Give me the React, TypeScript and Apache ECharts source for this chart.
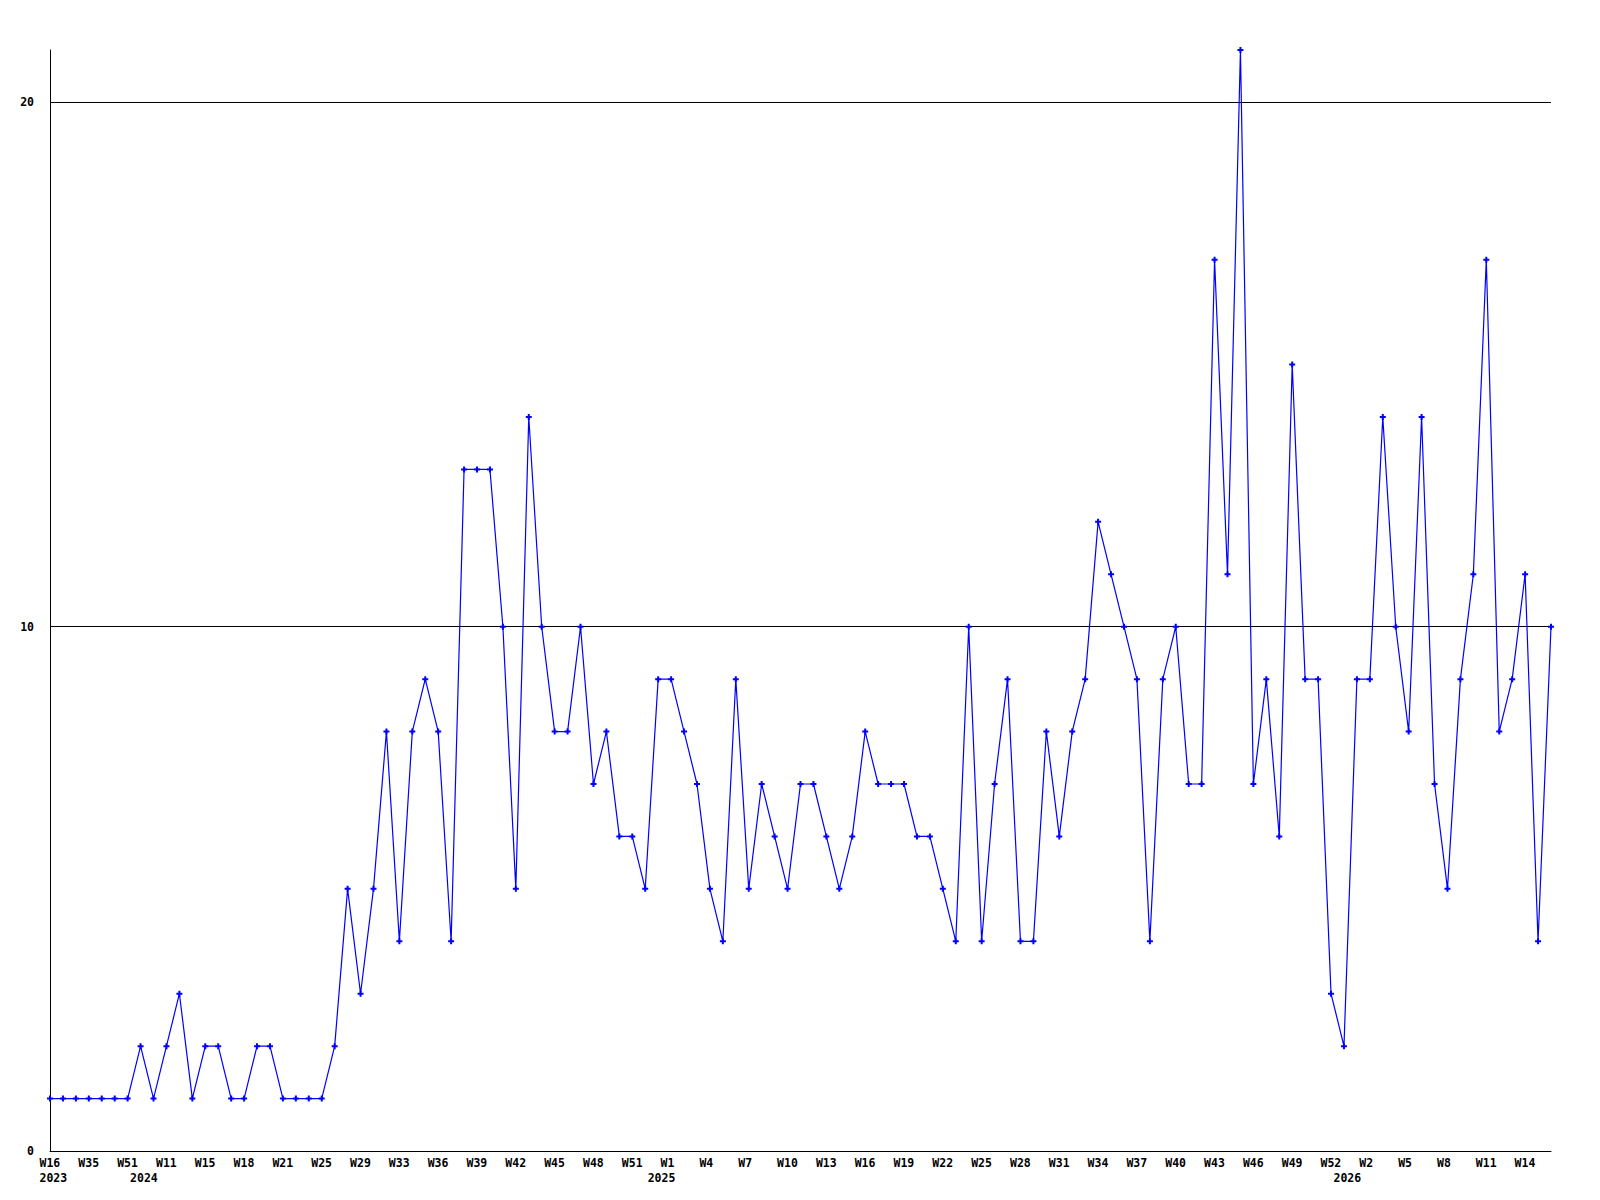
import React, { useEffect, useRef } from "react";
import * as echarts from "echarts";

// Week label of each point (labels are printed every third point)
const weeks: string[] = [
  "W16", "W22", "W29", "W35", "W40", "W46", "W51",
  "W3", "W7", "W11", "W12", "W14", "W15", "W16", "W17", "W18", "W19", "W20", "W21", "W22", "W23",
  "W25", "W26", "W27", "W29", "W30", "W31", "W33", "W34", "W35", "W36", "W37", "W38", "W39", "W40",
  "W41", "W42", "W43", "W44", "W45", "W46", "W47", "W48", "W49", "W50", "W51", "W52",
  "W1", "W1", "W2", "W3", "W4", "W5", "W6", "W7", "W8", "W9", "W10", "W11", "W12", "W13", "W14",
  "W15", "W16", "W17", "W18", "W19", "W20", "W21", "W22", "W23", "W24", "W25", "W26", "W27", "W28",
  "W29", "W30", "W31", "W32", "W33", "W34", "W35", "W36", "W37", "W38", "W39", "W40", "W41", "W42",
  "W43", "W44", "W45", "W46", "W47", "W48", "W49", "W50", "W51", "W52",
  "W1", "W1", "W2", "W3", "W4", "W5", "W6", "W7", "W8", "W9", "W10", "W11", "W12", "W13", "W14",
  "W15", "W16",
];

// Weekly counts
const values: number[] = [
  1, 1, 1, 1, 1, 1, 1,
  2, 1, 2, 3, 1, 2, 2, 1, 1, 2, 2, 1, 1, 1,
  1, 2, 5, 3, 5, 8, 4, 8, 9, 8, 4, 13, 13, 13,
  10, 5, 14, 10, 8, 8, 10, 7, 8, 6, 6, 5,
  9, 9, 8, 7, 5, 4, 9, 5, 7, 6, 5, 7, 7, 6, 5,
  6, 8, 7, 7, 7, 6, 6, 5, 4, 10, 4, 7, 9, 4,
  4, 8, 6, 8, 9, 12, 11, 10, 9, 4, 9, 10, 7, 7,
  17, 11, 21, 7, 9, 6, 15, 9, 9, 3,
  2, 9, 9, 14, 10, 8, 14, 7, 5, 9, 11, 17, 8, 9, 11,
  4, 10,
];

// Index of the first point of each year -> year label
const yearStartIndex: number[] = [0, 7, 47, 100];
const yearLabels: string[] = ["2023", "2024", "2025", "2026"];

const yTicks = { min: 0, max: 21, interval: 10 };

export default function App() {
  const ref = useRef<HTMLDivElement>(null);

  useEffect(() => {
    if (!ref.current) return;
    const chart = echarts.init(ref.current, undefined, { renderer: "svg" });
    const font = "DejaVu Sans Mono";
    const yearAt = (i: number) => {
      const k = yearStartIndex.indexOf(i);
      return k >= 0 ? yearLabels[k] : "";
    };
    chart.setOption({
      animation: false,
      backgroundColor: "#ffffff",
      grid: { left: 50, right: 49, top: 50, bottom: 49, containLabel: false },
      xAxis: {
        type: "category",
        data: weeks,
        boundaryGap: false,
        axisLine: { show: true, lineStyle: { color: "#000000", width: 1 } },
        axisTick: { show: false },
        splitLine: { show: false },
        axisLabel: {
          interval: (index: number) => index % 3 === 0 || yearAt(index) !== "",
          margin: 4,
          fontFamily: font,
          fontWeight: "bold",
          fontSize: 11.5,
          color: "#000000",
          lineHeight: 15,
          formatter: (_v: string, index: number) => {
            const w = index % 3 === 0 ? `{w|${weeks[index]}}` : `{w| }`;
            const y = yearAt(index);
            return y ? `${w}\n{w|${y}}` : w;
          },
          rich: {
            w: {
              width: 21,
              align: "left",
              fontFamily: font,
              fontWeight: "bold",
              fontSize: 11.5,
              color: "#000000",
              lineHeight: 15,
            },
          },
        },
      },
      yAxis: {
        type: "value",
        min: yTicks.min,
        max: yTicks.max,
        interval: yTicks.interval,
        axisLine: { show: true, lineStyle: { color: "#000000", width: 1 } },
        axisTick: { show: false },
        splitLine: {
          show: true,
          showMinLine: false,
          showMaxLine: false,
          lineStyle: { color: "#000000", width: 1 },
        },
        axisLabel: {
          margin: 16,
          fontFamily: font,
          fontWeight: "bold",
          fontSize: 11.5,
          color: "#000000",
          showMaxLabel: false,
          formatter: (v: number) => (v % yTicks.interval === 0 ? String(v) : ""),
        },
      },
      series: [
        {
          type: "line",
          data: values,
          showSymbol: true,
          showAllSymbol: true,
          symbol: "path://M2,0H4V2H6V4H4V6H2V4H0V2H2Z",
          symbolSize: 6,
          lineStyle: { color: "#0000ff", width: 1.2 },
          itemStyle: { color: "#0000ff" },
          clip: false,
        },
      ],
    });
    return () => chart.dispose();
  }, []);

  return (
    <div
      ref={ref}
      style={{ position: "fixed", left: 0, top: 0, width: 1600, height: 1200, background: "#fff" }}
    />
  );
}
